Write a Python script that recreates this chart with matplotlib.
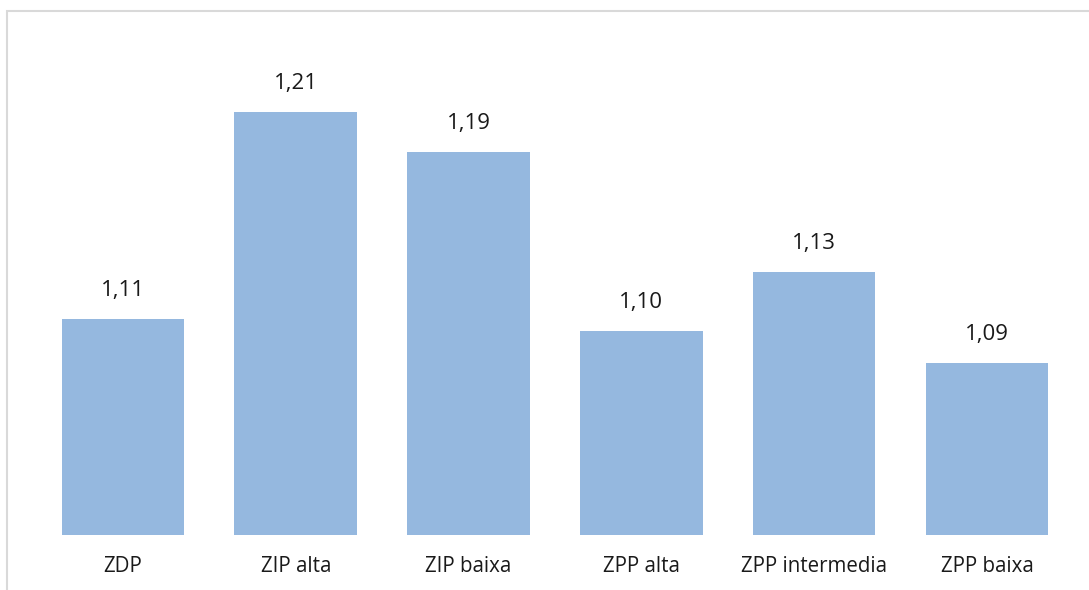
import matplotlib.pyplot as plt
from matplotlib.patches import Rectangle

categories = ["ZDP", "ZIP alta", "ZIP baixa", "ZPP alta", "ZPP intermedia", "ZPP baixa"]
values = [1.108, 1.2115, 1.1915, 1.102, 1.1315, 1.086]

plt.rcParams["font.family"] = ["Open Sans", "DejaVu Sans"]

fig = plt.figure(figsize=(10.89, 5.90), dpi=100)
ax = fig.add_axes([0.0336, 0.0932, 0.952, 0.847])

x = range(len(categories))
ax.bar(x, values, width=0.71, bottom=0, color="#95B8DF")
ax.set_ylim(1.0, 1.25)
ax.set_xlim(-0.5, len(categories) - 0.5)

for xi, v in zip(x, values):
    ax.annotate(f"{v:.2f}".replace(".", ","), (xi, v), xytext=(0, 13),
                textcoords="offset points", ha="center", va="bottom",
                fontsize=16, color="#1a1a1a")

ax.set_xticks(list(x))
ax.set_xticklabels(categories, fontsize=14.8, color="#1a1a1a")
ax.tick_params(axis="x", length=0, pad=15)
ax.set_yticks([])
for s in ax.spines.values():
    s.set_visible(False)

# light frame around the chart, cut by the right and bottom edges
fig.patches.append(Rectangle((7 / 1089, -0.1), 1.2, (590 - 11) / 590 + 0.1,
                             transform=fig.transFigure, fill=False,
                             edgecolor="#d9d9d9", linewidth=1.5))

fig.savefig("out.png", dpi=100)
